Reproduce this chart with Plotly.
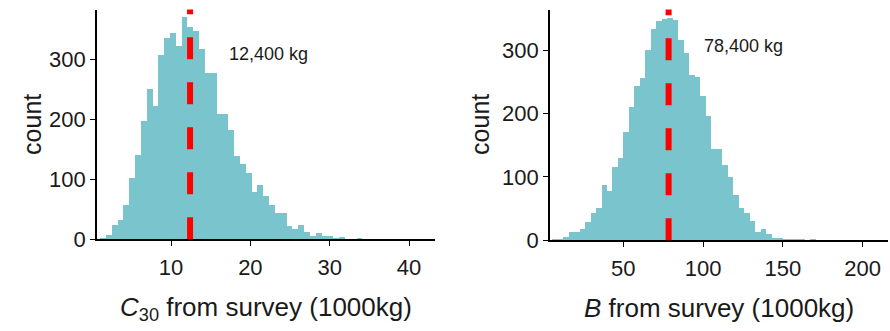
import plotly.graph_objects as go

# ---- data ----
c30_bin_start = 1.05
c30_bin_width = 0.735
c30_counts = [3, 8, 24, 32, 58, 103, 142, 199, 252, 223, 309, 337, 345, 323, 372, 355,
              349, 318, 278, 278, 210, 210, 183, 140, 127, 111, 80, 92, 73, 58, 45, 45,
              22, 17, 25, 13, 6, 11, 6, 6, 3, 5, 1, 1, 2]
c30_median = 12.4
c30_label = "12,400 kg"

b_bin_start = 5.33
b_bin_width = 3.446
b_counts = [2, 3, 5, 13, 14, 18, 29, 44, 51, 88, 78, 116, 131, 171, 211, 244, 257, 301,
            334, 346, 350, 352, 349, 317, 296, 261, 258, 228, 197, 145, 145, 119, 100,
            72, 52, 43, 31, 14, 19, 10, 4, 4, 2, 1, 1, 1, 0, 1]
b_median = 78.4
b_label = "78,400 kg"

left_xticks = [10, 20, 30, 40]
right_xticks = [50, 100, 150, 200]
yticks = [0, 100, 200, 300]

# ---- figure ----
W, H = 890, 331
BAR = "#7AC5CD"
FONT = "Liberation Sans, Arial, sans-serif"

def centers(start, width, n):
    return [start + width * (i + 0.5) for i in range(n)]

fig = go.Figure()
fig.add_trace(go.Bar(x=centers(c30_bin_start, c30_bin_width, len(c30_counts)), y=c30_counts,
                     width=c30_bin_width, marker=dict(color=BAR, line=dict(width=0)),
                     xaxis="x", yaxis="y", showlegend=False))
fig.add_trace(go.Bar(x=centers(b_bin_start, b_bin_width, len(b_counts)), y=b_counts,
                     width=b_bin_width, marker=dict(color=BAR, line=dict(width=0)),
                     xaxis="x2", yaxis="y2", showlegend=False))

def px_x(p):
    return p / W

def px_y(p):
    return 1 - p / H

axis_common = dict(showline=True, linecolor="black", linewidth=1.6, ticks="outside",
                   ticklen=5, tickwidth=1.3, tickcolor="black", showgrid=False,
                   zeroline=False, tickfont=dict(family=FONT, size=22, color="#1a1a1a"))

fig.update_layout(
    width=W, height=H, margin=dict(l=0, r=0, t=0, b=0),
    paper_bgcolor="white", plot_bgcolor="white", bargap=0, barmode="overlay",
    xaxis=dict(domain=[px_x(97), px_x(435)], range=[0.67, 43.27], tickvals=left_xticks,
               anchor="y", ticklabelstandoff=3, **axis_common),
    yaxis=dict(domain=[px_y(249), px_y(10)], range=[0, 383.6], tickvals=yticks,
               anchor="x", **axis_common),
    xaxis2=dict(domain=[px_x(550), px_x(888)], range=[4.07, 215.9], tickvals=right_xticks,
                anchor="y2", ticklabelstandoff=3, **axis_common),
    yaxis2=dict(domain=[px_y(250), px_y(10)], range=[0, 364], tickvals=yticks,
                anchor="x2", **axis_common),
)

for xref, yref, med in [("x", "y domain", c30_median), ("x2", "y2 domain", b_median)]:
    fig.add_shape(type="line", xref=xref, yref=yref, x0=med, x1=med, y0=0, y1=1,
                  line=dict(color="#FF0000", width=6, dash="22px,23px"), layer="above")

fig.add_annotation(x=17.0, y=310, xref="x", yref="y", text=c30_label, showarrow=False,
                   xanchor="left", yanchor="middle", font=dict(family=FONT, size=18, color="#1a1a1a"))
fig.add_annotation(x=99.1, y=306, xref="x2", yref="y2", text=b_label, showarrow=False,
                   xanchor="left", yanchor="middle", font=dict(family=FONT, size=18, color="#1a1a1a"))

xtitle_font = dict(family=FONT, size=26, color="#1a1a1a")
ytitle_font = dict(family=FONT, size=25, color="#1a1a1a")
fig.add_annotation(x=px_x(266), y=px_y(321), xref="paper", yref="paper",
                   text="<i>C</i><sub>30</sub> from survey (1000kg)", showarrow=False,
                   xanchor="center", yanchor="middle", font=xtitle_font)
fig.add_annotation(x=px_x(719), y=px_y(321), xref="paper", yref="paper",
                   text="<i>B</i> from survey (1000kg)", showarrow=False,
                   xanchor="center", yanchor="middle", font=xtitle_font)
fig.add_annotation(x=px_x(32), y=px_y(130), xref="paper", yref="paper", text="count",
                   textangle=-90, showarrow=False, xanchor="center", yanchor="middle",
                   font=ytitle_font)
fig.add_annotation(x=px_x(480), y=px_y(130), xref="paper", yref="paper", text="count",
                   textangle=-90, showarrow=False, xanchor="center", yanchor="middle",
                   font=ytitle_font)

fig.write_html("out.html", config={"displayModeBar": False},
               post_script="document.body.style.margin='0px';")
